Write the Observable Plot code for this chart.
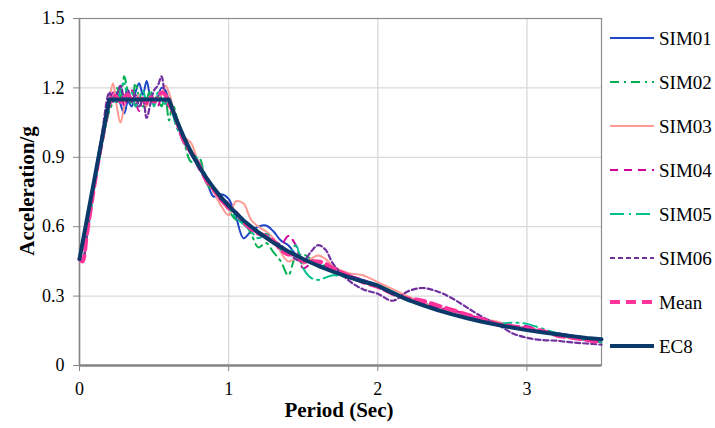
<!DOCTYPE html>
<html><head><meta charset="utf-8">
<script src="https://cdn.jsdelivr.net/npm/d3@7"></script>
<script src="https://cdn.jsdelivr.net/npm/@observablehq/plot@0.6"></script>
<style>body{margin:0;background:#fff}#chart svg{display:block}#chart svg text{font-family:"Liberation Serif","Times New Roman",serif !important}</style>
</head><body><div id="chart"></div>
<script>
const periods = [0, 0.02, 0.05, 0.1, 0.15,
  0.2, 0.225, 0.25, 0.275, 0.3, 0.325, 0.35, 0.375, 0.4, 0.425, 0.45, 0.475, 0.5, 0.525, 0.55, 0.575, 0.6, 0.625, 0.65, 0.675, 0.7,
  0.75, 0.8, 0.85, 0.9, 0.95, 1.0, 1.05, 1.1, 1.15, 1.2, 1.25, 1.3, 1.35, 1.4, 1.45, 1.5, 1.55, 1.6, 1.65, 1.7,
  1.8, 1.9, 2.0, 2.1, 2.2, 2.3, 2.4, 2.5, 2.6, 2.7, 2.8, 2.9, 3.0, 3.1, 3.2, 3.3, 3.4, 3.5];

const SIM01 = [0.46, 0.45, 0.57, 0.78, 0.97,
  1.12, 1.16, 1.18, 1.13, 1.09, 1.14, 1.12, 1.18, 1.22, 1.17, 1.23, 1.16, 1.13, 1.16, 1.20, 1.19, 1.14, 1.09, 1.05, 1.02, 0.97,
  0.91, 0.86, 0.80, 0.73, 0.74, 0.72, 0.64, 0.55, 0.58, 0.60, 0.605, 0.58, 0.54, 0.52, 0.48, 0.46, 0.45, 0.44, 0.42, 0.41,
  0.39, 0.37, 0.35, 0.32, 0.29, 0.27, 0.25, 0.23, 0.21, 0.19, 0.18, 0.17, 0.16, 0.15, 0.14, 0.13, 0.12, 0.11];

const SIM02 = [0.46, 0.45, 0.56, 0.77, 0.95,
  1.10, 1.14, 1.20, 1.16, 1.25, 1.18, 1.13, 1.22, 1.16, 1.12, 1.15, 1.19, 1.14, 1.17, 1.12, 1.16, 1.06, 1.13, 1.08, 1.02, 0.97,
  0.88, 0.90, 0.79, 0.75, 0.73, 0.67, 0.63, 0.62, 0.57, 0.51, 0.53, 0.49, 0.45, 0.39, 0.47, 0.48, 0.46, 0.44, 0.43, 0.41,
  0.38, 0.36, 0.35, 0.32, 0.29, 0.26, 0.25, 0.23, 0.22, 0.20, 0.18, 0.17, 0.16, 0.15, 0.13, 0.12, 0.11, 0.10];

const SIM03 = [0.46, 0.46, 0.58, 0.79, 0.98,
  1.15, 1.22, 1.12, 1.05, 1.12, 1.18, 1.15, 1.13, 1.17, 1.14, 1.12, 1.16, 1.13, 1.15, 1.17, 1.21, 1.18, 1.12, 1.07, 1.03, 0.99,
  0.96, 0.87, 0.81, 0.75, 0.69, 0.65, 0.71, 0.70, 0.63, 0.60, 0.58, 0.55, 0.49, 0.45, 0.46, 0.44, 0.46, 0.475, 0.46, 0.43,
  0.40, 0.39, 0.36, 0.33, 0.30, 0.27, 0.25, 0.23, 0.21, 0.20, 0.19, 0.17, 0.16, 0.15, 0.13, 0.12, 0.11, 0.10];

const SIM04 = [0.46, 0.45, 0.57, 0.78, 0.97,
  1.13, 1.18, 1.14, 1.20, 1.12, 1.16, 1.19, 1.14, 1.10, 1.16, 1.13, 1.17, 1.15, 1.12, 1.16, 1.14, 1.12, 1.10, 1.06, 1.01, 0.97,
  0.92, 0.85, 0.80, 0.77, 0.71, 0.68, 0.66, 0.62, 0.59, 0.57, 0.56, 0.53, 0.52, 0.56, 0.52, 0.42, 0.44, 0.45, 0.43, 0.41,
  0.39, 0.37, 0.34, 0.31, 0.29, 0.27, 0.25, 0.24, 0.22, 0.20, 0.18, 0.17, 0.17, 0.15, 0.13, 0.12, 0.11, 0.10];

const SIM05 = [0.46, 0.45, 0.56, 0.77, 0.96,
  1.12, 1.16, 1.13, 1.19, 1.22, 1.15, 1.18, 1.12, 1.15, 1.19, 1.14, 1.17, 1.12, 1.18, 1.15, 1.13, 1.15, 1.09, 1.03, 1.00, 0.96,
  0.93, 0.88, 0.82, 0.76, 0.72, 0.68, 0.64, 0.61, 0.58, 0.55, 0.57, 0.54, 0.50, 0.48, 0.52, 0.42, 0.38, 0.37, 0.38, 0.39,
  0.38, 0.36, 0.34, 0.31, 0.28, 0.26, 0.24, 0.22, 0.21, 0.19, 0.18, 0.185, 0.18, 0.16, 0.14, 0.12, 0.11, 0.10];

const SIM06 = [0.46, 0.45, 0.57, 0.80, 1.00,
  1.18, 1.14, 1.17, 1.21, 1.16, 1.19, 1.14, 1.17, 1.12, 1.15, 1.07, 1.13, 1.19, 1.21, 1.25, 1.17, 1.15, 1.10, 1.05, 1.01, 0.97,
  0.91, 0.86, 0.80, 0.77, 0.73, 0.70, 0.66, 0.63, 0.60, 0.58, 0.56, 0.54, 0.52, 0.49, 0.46, 0.45, 0.49, 0.52, 0.50, 0.44,
  0.37, 0.33, 0.31, 0.28, 0.32, 0.335, 0.32, 0.29, 0.25, 0.21, 0.18, 0.14, 0.12, 0.11, 0.107, 0.10, 0.095, 0.09];

const MEAN = [0.46, 0.45, 0.57, 0.78, 0.97,
  1.13, 1.17, 1.16, 1.14, 1.16, 1.17, 1.15, 1.16, 1.15, 1.15, 1.14, 1.16, 1.14, 1.16, 1.18, 1.17, 1.13, 1.10, 1.06, 1.01, 0.97,
  0.92, 0.87, 0.80, 0.76, 0.72, 0.68, 0.66, 0.62, 0.59, 0.57, 0.56, 0.54, 0.50, 0.48, 0.48, 0.45, 0.45, 0.45, 0.44, 0.42,
  0.39, 0.36, 0.34, 0.31, 0.29, 0.28, 0.26, 0.24, 0.22, 0.20, 0.18, 0.17, 0.16, 0.15, 0.13, 0.12, 0.11, 0.10];

const ec8Periods = [0, 0.2, 0.6, 0.65, 0.7, 0.75, 0.8, 0.85, 0.9, 0.95, 1.0, 1.1, 1.2, 1.3, 1.4, 1.5, 1.6, 1.7, 1.8, 1.9, 2.0,
  2.1, 2.2, 2.3, 2.4, 2.5, 2.6, 2.7, 2.8, 2.9, 3.0, 3.1, 3.2, 3.3, 3.4, 3.5];
const EC8 = [0.46, 1.15, 1.15, 1.062, 0.986, 0.92, 0.8625, 0.812, 0.767, 0.726, 0.69, 0.627, 0.575, 0.531, 0.493, 0.46, 0.431, 0.406, 0.383, 0.363, 0.345,
  0.313, 0.285, 0.261, 0.240, 0.221, 0.204, 0.189, 0.176, 0.164, 0.153, 0.144, 0.135, 0.127, 0.119, 0.113];

const seriesNames = ["SIM01", "SIM02", "SIM03", "SIM04", "SIM05", "SIM06", "Mean", "EC8"];
const xTicks = [0, 1, 2, 3];
const yTicks = [0, 0.3, 0.6, 0.9, 1.2, 1.5];

const styles = {
  SIM01: {stroke: "#1f45c8", dash: null, width: 2},
  SIM02: {stroke: "#00b050", dash: "9,5,2,5", width: 2},
  SIM03: {stroke: "#ff9b93", dash: null, width: 2},
  SIM04: {stroke: "#d1009b", dash: "8,6", width: 2},
  SIM05: {stroke: "#00c08b", dash: "14,5,2,5", width: 2},
  SIM06: {stroke: "#7030a0", dash: "5,3", width: 2.2},
  Mean: {stroke: "#ff3399", dash: "10,6", width: 4},
  EC8: {stroke: "#0b3a6a", dash: null, width: 4}
};

const seriesValues = {SIM01, SIM02, SIM03, SIM04, SIM05, SIM06, Mean: MEAN};
const toRows = (xs, ys) => xs.map((t, i) => ({t, v: ys[i]}));

const lineMarks = Object.entries(seriesValues).map(([name, vals]) =>
  Plot.line(toRows(periods, vals), {
    x: "t", y: "v", curve: "catmull-rom",
    stroke: styles[name].stroke, strokeWidth: styles[name].width,
    strokeDasharray: styles[name].dash, strokeLinejoin: "round"
  })
);
lineMarks.push(Plot.line(toRows(ec8Periods, EC8), {
  x: "t", y: "v", stroke: styles.EC8.stroke, strokeWidth: styles.EC8.width, strokeLinejoin: "round"
}));

const serif = "Liberation Serif, Times New Roman, serif";
const fmt = d => String(d);
const plot = Plot.plot({
  width: 715, height: 428,
  marginLeft: 79, marginRight: 114, marginTop: 18, marginBottom: 63,
  style: {fontFamily: serif, fontSize: "17px", color: "#000", background: "#fff"},
  x: {domain: [0, 3.5], label: null},
  y: {domain: [0, 1.5], label: null},
  marks: [
    Plot.gridX(xTicks.slice(1), {stroke: "#d9d9d9", strokeOpacity: 1, strokeWidth: 1.3}),
    Plot.gridY(yTicks.slice(1, -1), {stroke: "#d9d9d9", strokeOpacity: 1, strokeWidth: 1.3}),
    Plot.frame({stroke: "#8c8c8c", strokeWidth: 1.2}),
    Plot.ruleX([0], {stroke: "#868686", strokeWidth: 1.5}),
    Plot.ruleY([0], {stroke: "#868686", strokeWidth: 2.5}),
    Plot.axisX({ticks: xTicks, tickFormat: fmt, tickSize: 6, tickPadding: 11, stroke: "#868686", fill: "#000", fontSize: 18, label: null}),
    Plot.axisY({ticks: yTicks, tickFormat: fmt, tickSize: 6, tickPadding: 9, stroke: "#868686", fill: "#000", fontSize: 18, label: null}),
    ...lineMarks
  ]
});
document.getElementById("chart").appendChild(plot);

const svg = d3.select(plot);
// axis titles
svg.append("text").text("Period (Sec)")
  .attr("x", 339).attr("y", 417)
  .attr("text-anchor", "middle")
  .attr("font-family", serif).attr("font-weight", "bold").attr("font-size", 21).attr("fill", "#000");
svg.append("text").text("Acceleration/g")
  .attr("transform", "translate(34,191) rotate(-90)")
  .attr("text-anchor", "middle")
  .attr("font-family", serif).attr("font-weight", "bold").attr("font-size", 21).attr("fill", "#000");

// legend
const lg = svg.append("g").attr("text-anchor", "start");
seriesNames.forEach((name, i) => {
  const y = 38 + i * 44;
  const s = styles[name];
  lg.append("line").attr("x1", 610).attr("x2", 654).attr("y1", y).attr("y2", y)
    .attr("stroke", s.stroke).attr("stroke-width", s.width)
    .attr("stroke-dasharray", s.dash);
  lg.append("text").text(name).attr("x", 659).attr("y", y).attr("dy", "0.35em")
    .attr("text-anchor", "start")
    .attr("font-family", serif).attr("font-size", 19).attr("fill", "#000");
});
</script>
</body></html>
